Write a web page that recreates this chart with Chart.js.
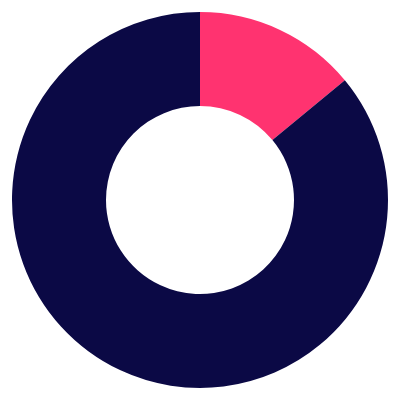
<!DOCTYPE html>
<html>
<head>
<meta charset="utf-8">
<script src="https://cdn.jsdelivr.net/npm/chart.js@4"></script>
<style>
  html, body { margin: 0; padding: 0; background: #fff; }
  #wrap { width: 400px; height: 400px; }
</style>
</head>
<body>
<div id="wrap"><canvas id="chart"></canvas></div>
<script>
  // two slices
  const labels = ["A", "B"];
  const values = [14, 86];
  const colors = ["#FF3370", "#0B0945"];

  new Chart(document.getElementById("chart"), {
    type: "doughnut",
    data: {
      labels: labels,
      datasets: [{
        data: values,
        backgroundColor: colors,
        borderWidth: 0
      }]
    },
    options: {
      responsive: true,
      maintainAspectRatio: false,
      animation: false,
      cutout: "50%",
      layout: { padding: 12 },
      plugins: {
        legend: { display: false },
        tooltip: { enabled: false }
      }
    }
  });
</script>
</body>
</html>
